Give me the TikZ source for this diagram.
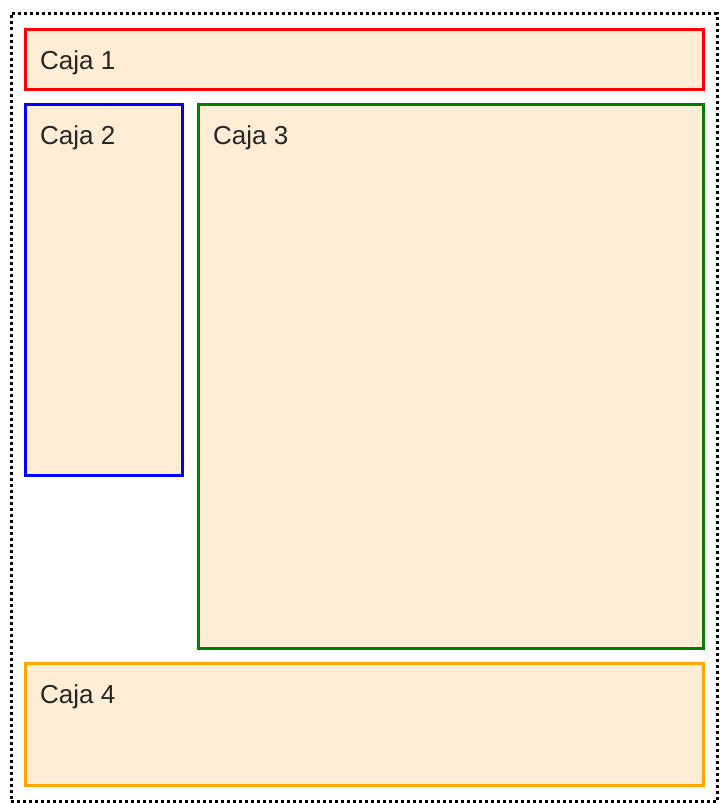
\documentclass[tikz,border=0pt]{standalone}
\usepackage{fontspec}
\setmainfont{Liberation Sans}
\usetikzlibrary{calc}
\definecolor{boxfill}{HTML}{FFEDD5}
\definecolor{cajared}{HTML}{FF0000}
\definecolor{cajablue}{HTML}{0000FF}
\definecolor{cajagreen}{HTML}{008000}
\definecolor{cajaorange}{HTML}{FFA500}
\tikzset{
  caja/.style={draw, line width=2.8pt, fill=boxfill, rectangle, inner sep=0pt, anchor=north west},
  cajalbl/.style={anchor=base west, inner sep=0pt, font=\fontsize{26}{30}\selectfont, text=black!85},
  outerbox/.style={draw=black, line width=3pt, dash pattern=on 3pt off 3pt}
}
\begin{document}
\begin{tikzpicture}[x=1pt,y=-1pt]
\useasboundingbox (0,0) rectangle (721,803);
\fill[white] (0,0) rectangle (721,803);
\node[outerbox, rectangle, inner sep=0pt, anchor=north west, minimum width=706pt, minimum height=788pt] (outer) at (9.5,12) {};
\node[caja, draw=cajared, minimum width=678pt, minimum height=60pt] (b1) at (24,28) {};
\node[caja, draw=cajablue, minimum width=157pt, minimum height=371pt] (b2) at (24,103) {};
\node[caja, draw=cajagreen, minimum width=505pt, minimum height=544pt] (b3) at (197,103) {};
\node[caja, draw=cajaorange, minimum width=678pt, minimum height=122pt] (b4) at (24,662) {};
\node[cajalbl] (t1) at ($(b1.north west)+(16,41)$) {Caja 1};
\node[cajalbl] (t2) at ($(b2.north west)+(16,41)$) {Caja 2};
\node[cajalbl] (t3) at ($(b3.north west)+(16,41)$) {Caja 3};
\node[cajalbl] (t4) at ($(b4.north west)+(16,41)$) {Caja 4};
\end{tikzpicture}
\end{document}
